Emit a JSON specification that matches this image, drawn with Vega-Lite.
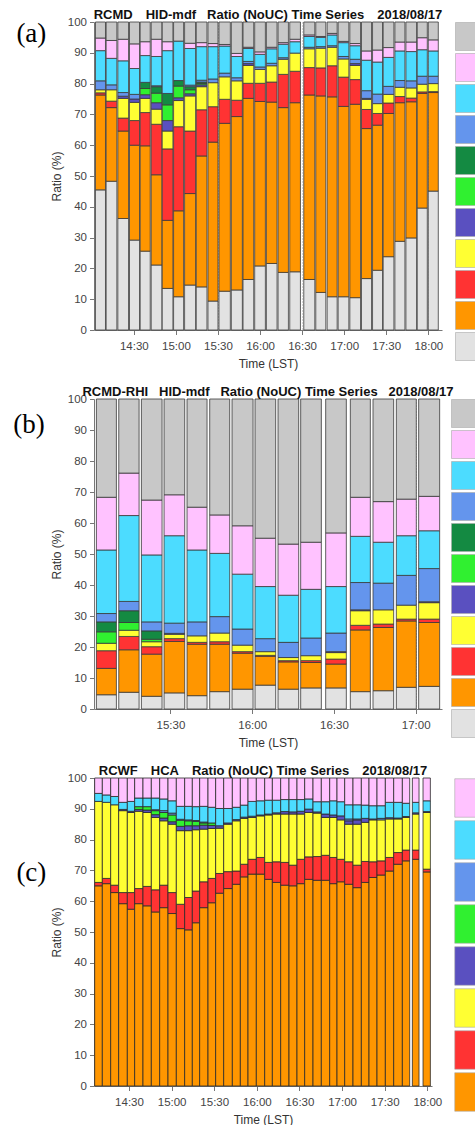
{
  "$schema": "https://vega.github.io/schema/vega-lite/v6.json",
  "padding": {"left": 13, "top": 9, "right": 0, "bottom": 0},
  "background": "white",
  "config": {
    "font": "Liberation Sans",
    "view": {"stroke": null},
    "axis": {"domainColor": "#777", "tickColor": "#777", "labelColor": "#444", "labelFontSize": 11.5, "titleFontSize": 12, "titleFontWeight": "normal", "titleColor": "#333", "tickSize": 4.5},
    "axisX": {"grid": true, "gridColor": "#777", "gridDash": [1, 2], "gridOpacity": 0.6, "labelPadding": 6, "titlePadding": 6, "zindex": 1},
    "axisY": {"grid": false, "labelPadding": 3, "titlePadding": 4},
    "legend": {"padding": 0, "rowPadding": 0, "labelFontSize": 10, "symbolStrokeWidth": 0.6, "symbolStrokeColor": "#aaa"},
    "title": {"font": "Liberation Sans", "fontSize": 13, "fontWeight": "bold", "color": "#111", "offset": -6}
  },
  "datasets": {
    "a": [
      {"t0": 14.0437, "t1": 14.1627, "lightgray": 45.5, "orange": 30.8, "red": 0.7, "yellow": 1.0, "blue": 2.9, "cyan": 9.8, "pink": 4.1, "gray": 5.2},
      {"t0": 14.1707, "t1": 14.2977, "lightgray": 48.3, "orange": 23.9, "red": 2.1, "yellow": 3.7, "blue": 1.6, "cyan": 8.6, "pink": 5.8, "gray": 6.0},
      {"t0": 14.3095, "t1": 14.4365, "lightgray": 36.2, "orange": 28.4, "red": 4.2, "yellow": 6.4, "purple": 0.7, "blue": 1.2, "cyan": 10.3, "pink": 7.0, "gray": 5.6},
      {"t0": 14.4483, "t1": 14.5675, "lightgray": 29.2, "orange": 30.8, "red": 8.0, "yellow": 5.9, "purple": 1.1, "blue": 1.5, "cyan": 8.4, "pink": 8.0, "gray": 7.1},
      {"t0": 14.5753, "t1": 14.6945, "lightgray": 25.6, "orange": 34.2, "red": 10.8, "yellow": 4.6, "purple": 1.2, "green": 2.0, "darkgreen": 2.0, "cyan": 8.7, "pink": 4.5, "gray": 6.4},
      {"t0": 14.7063, "t1": 14.8333, "lightgray": 21.1, "orange": 29.3, "red": 16.4, "yellow": 4.9, "purple": 2.1, "green": 3.1, "darkgreen": 2.1, "blue": 0.3, "cyan": 9.5, "pink": 5.6, "gray": 5.6},
      {"t0": 14.8373, "t1": 14.9643, "lightgray": 13.5, "orange": 22.1, "red": 23.2, "yellow": 5.8, "purple": 3.4, "green": 5.1, "darkgreen": 3.7, "cyan": 13.9, "pink": 2.9, "gray": 6.4},
      {"t0": 14.9722, "t1": 15.0913, "lightgray": 10.8, "orange": 27.9, "red": 27.3, "yellow": 8.5, "purple": 0.9, "green": 3.8, "darkgreen": 1.8, "cyan": 12.8, "gray": 6.2},
      {"t0": 15.1032, "t1": 15.2342, "lightgray": 14.6, "orange": 29.7, "red": 20.3, "yellow": 11.4, "purple": 0.7, "green": 1.3, "darkgreen": 1.0, "blue": 0.5, "cyan": 11.9, "pink": 1.7, "gray": 6.9},
      {"t0": 15.2420, "t1": 15.3690, "lightgray": 14.0, "orange": 42.5, "red": 15.0, "yellow": 7.5, "purple": 0.6, "green": 0.4, "darkgreen": 0.5, "blue": 0.6, "cyan": 10.9, "pink": 1.3, "gray": 6.7},
      {"t0": 15.3810, "t1": 15.5000, "lightgray": 9.4, "orange": 51.6, "red": 11.5, "yellow": 7.8, "blue": 1.2, "cyan": 10.5, "pink": 1.0, "gray": 7.0},
      {"t0": 15.5118, "t1": 15.6468, "lightgray": 12.6, "orange": 54.5, "red": 7.8, "yellow": 7.3, "blue": 1.2, "cyan": 8.8, "pink": 0.5, "gray": 7.3},
      {"t0": 15.6587, "t1": 15.7897, "lightgray": 13.0, "orange": 56.3, "red": 5.3, "yellow": 6.3, "blue": 1.0, "cyan": 6.9, "pink": 1.0, "gray": 10.2},
      {"t0": 15.7977, "t1": 15.9247, "lightgray": 16.4, "orange": 58.8, "red": 4.9, "yellow": 5.8, "purple": 0.6, "blue": 0.7, "cyan": 4.2, "pink": 0.4, "gray": 8.2},
      {"t0": 15.9365, "t1": 16.0635, "lightgray": 20.8, "orange": 53.4, "red": 5.9, "yellow": 4.5, "blue": 0.8, "cyan": 4.1, "pink": 0.8, "gray": 9.7},
      {"t0": 16.0753, "t1": 16.2023, "lightgray": 21.6, "orange": 52.4, "red": 6.5, "yellow": 5.3, "blue": 0.8, "cyan": 4.7, "pink": 0.5, "gray": 8.2},
      {"t0": 16.2143, "t1": 16.3373, "lightgray": 18.7, "orange": 53.5, "red": 10.8, "yellow": 4.9, "blue": 0.5, "cyan": 4.4, "pink": 0.5, "gray": 6.7},
      {"t0": 16.3532, "t1": 16.4802, "lightgray": 18.9, "orange": 54.9, "red": 10.2, "yellow": 5.9, "cyan": 3.7, "pink": 0.8, "gray": 5.6},
      {"t0": 16.5198, "t1": 16.6508, "lightgray": 16.4, "orange": 59.9, "red": 8.9, "yellow": 6.1, "blue": 0.5, "cyan": 3.5, "pink": 0.5, "gray": 4.2},
      {"t0": 16.6627, "t1": 16.7817, "lightgray": 12.2, "orange": 63.8, "red": 9.1, "yellow": 6.4, "blue": 0.5, "cyan": 3.0, "pink": 0.3, "gray": 4.7},
      {"t0": 16.7977, "t1": 16.9167, "lightgray": 10.8, "orange": 64.9, "red": 10.1, "yellow": 6.0, "blue": 0.5, "cyan": 3.5, "pink": 0.5, "gray": 3.7},
      {"t0": 16.9285, "t1": 17.0555, "lightgray": 10.8, "orange": 61.8, "red": 9.5, "yellow": 5.9, "blue": 0.8, "cyan": 4.5, "pink": 0.4, "gray": 6.3},
      {"t0": 17.0675, "t1": 17.1945, "lightgray": 10.5, "orange": 62.8, "red": 8.0, "yellow": 4.6, "purple": 0.6, "blue": 1.4, "cyan": 4.4, "pink": 0.7, "gray": 7.0},
      {"t0": 17.2063, "t1": 17.3253, "lightgray": 16.7, "orange": 48.7, "red": 6.2, "yellow": 3.3, "purple": 0.3, "blue": 2.5, "cyan": 9.9, "pink": 3.0, "gray": 9.4},
      {"t0": 17.3373, "t1": 17.4563, "lightgray": 19.4, "orange": 47.1, "red": 3.8, "yellow": 3.2, "blue": 3.1, "cyan": 10.4, "pink": 3.9, "gray": 9.1},
      {"t0": 17.4643, "t1": 17.5913, "lightgray": 23.8, "orange": 46.5, "red": 3.4, "yellow": 2.8, "blue": 2.6, "cyan": 9.4, "pink": 3.2, "gray": 8.3},
      {"t0": 17.6032, "t1": 17.7222, "lightgray": 28.8, "orange": 45.0, "red": 2.0, "yellow": 3.0, "blue": 2.2, "cyan": 9.6, "pink": 2.9, "gray": 6.5},
      {"t0": 17.7342, "t1": 17.8612, "lightgray": 29.9, "orange": 44.2, "red": 1.2, "yellow": 3.3, "blue": 2.3, "cyan": 9.5, "pink": 3.1, "gray": 6.5},
      {"t0": 17.8690, "t1": 17.9882, "lightgray": 39.6, "orange": 37.2, "red": 0.5, "yellow": 2.5, "blue": 2.6, "cyan": 8.6, "pink": 3.9, "gray": 5.1},
      {"t0": 18.0000, "t1": 18.1190, "lightgray": 45.1, "orange": 32.0, "red": 0.3, "yellow": 2.6, "blue": 2.4, "cyan": 8.2, "pink": 3.6, "gray": 5.8}
    ],
    "b": [
      {"t0": 15.0475, "t1": 15.1698, "lightgray": 4.6, "orange": 8.5, "red": 5.7, "yellow": 2.4, "green": 3.7, "darkgreen": 3.2, "blue": 2.7, "cyan": 20.5, "pink": 17.0, "gray": 31.7},
      {"t0": 15.1842, "t1": 15.3085, "lightgray": 5.4, "orange": 13.7, "red": 4.3, "yellow": 2.0, "green": 2.5, "darkgreen": 3.8, "blue": 3.0, "cyan": 27.7, "pink": 13.7, "gray": 23.9},
      {"t0": 15.3227, "t1": 15.4490, "lightgray": 4.1, "orange": 13.6, "red": 2.4, "yellow": 1.6, "green": 0.8, "darkgreen": 2.7, "blue": 2.9, "cyan": 21.6, "pink": 17.7, "gray": 32.6},
      {"t0": 15.4613, "t1": 15.5877, "lightgray": 5.2, "orange": 16.6, "red": 0.9, "yellow": 1.4, "purple": 0.3, "blue": 3.3, "cyan": 28.2, "pink": 13.2, "gray": 30.9},
      {"t0": 15.6018, "t1": 15.7242, "lightgray": 4.3, "orange": 16.6, "red": 0.6, "yellow": 2.1, "blue": 4.5, "cyan": 23.2, "pink": 13.8, "gray": 34.9},
      {"t0": 15.7405, "t1": 15.8628, "lightgray": 5.6, "orange": 15.3, "red": 0.8, "yellow": 2.8, "blue": 5.3, "cyan": 20.4, "pink": 12.4, "gray": 37.4},
      {"t0": 15.8770, "t1": 16.0055, "lightgray": 6.4, "orange": 11.6, "red": 0.5, "yellow": 2.1, "blue": 5.2, "cyan": 17.7, "pink": 15.6, "gray": 40.9},
      {"t0": 16.0177, "t1": 16.1440, "lightgray": 7.7, "orange": 9.3, "red": 0.3, "yellow": 1.2, "blue": 4.2, "cyan": 16.8, "pink": 15.6, "gray": 44.9},
      {"t0": 16.1583, "t1": 16.2847, "lightgray": 6.4, "orange": 8.8, "red": 0.4, "yellow": 1.0, "blue": 4.9, "cyan": 15.2, "pink": 16.5, "gray": 46.8},
      {"t0": 16.2968, "t1": 16.4232, "lightgray": 6.8, "orange": 8.2, "red": 0.6, "yellow": 1.6, "blue": 5.7, "cyan": 15.7, "pink": 15.2, "gray": 46.2},
      {"t0": 16.4497, "t1": 16.5760, "lightgray": 6.8, "orange": 7.7, "red": 1.6, "yellow": 2.1, "purple": 0.3, "blue": 6.0, "cyan": 15.0, "pink": 17.3, "gray": 43.2},
      {"t0": 16.6005, "t1": 16.7228, "lightgray": 5.6, "orange": 19.9, "red": 1.5, "yellow": 4.7, "purple": 0.3, "blue": 8.8, "cyan": 14.9, "pink": 12.6, "gray": 31.7},
      {"t0": 16.7392, "t1": 16.8655, "lightgray": 5.9, "orange": 20.4, "red": 1.1, "yellow": 4.6, "blue": 8.6, "cyan": 13.2, "pink": 13.1, "gray": 33.1},
      {"t0": 16.8818, "t1": 17.0040, "lightgray": 7.0, "orange": 21.4, "red": 0.6, "yellow": 4.5, "blue": 9.6, "cyan": 12.8, "pink": 11.8, "gray": 32.3},
      {"t0": 17.0183, "t1": 17.1467, "lightgray": 7.3, "orange": 20.6, "red": 1.1, "yellow": 5.3, "purple": 0.3, "blue": 10.7, "cyan": 12.2, "pink": 11.1, "gray": 31.4}
    ],
    "c": [
      {"t0": 14.0972, "t1": 14.1872, "orange": 65.0, "red": 1.1, "yellow": 26.3, "cyan": 2.6, "pink": 5.0},
      {"t0": 14.1872, "t1": 14.2850, "orange": 65.7, "red": 1.7, "yellow": 24.7, "cyan": 2.4, "pink": 5.5},
      {"t0": 14.2850, "t1": 14.3788, "orange": 62.8, "red": 2.4, "yellow": 26.1, "cyan": 2.7, "pink": 6.0},
      {"t0": 14.3788, "t1": 14.4805, "orange": 59.2, "red": 3.6, "yellow": 26.6, "purple": 0.4, "cyan": 2.3, "pink": 7.9},
      {"t0": 14.4805, "t1": 14.5665, "orange": 57.4, "red": 5.4, "yellow": 26.0, "purple": 0.4, "cyan": 3.2, "pink": 7.6},
      {"t0": 14.5665, "t1": 14.6642, "orange": 59.2, "red": 4.9, "yellow": 25.1, "purple": 0.6, "green": 0.9, "cyan": 2.8, "pink": 6.5},
      {"t0": 14.6642, "t1": 14.7620, "orange": 58.5, "red": 6.3, "yellow": 24.0, "purple": 0.8, "green": 1.1, "cyan": 2.8, "pink": 6.5},
      {"t0": 14.7620, "t1": 14.8598, "orange": 56.5, "red": 7.2, "yellow": 23.5, "purple": 0.9, "green": 1.3, "blue": 0.3, "cyan": 3.8, "pink": 6.5},
      {"t0": 14.8598, "t1": 14.9575, "orange": 57.9, "red": 7.3, "yellow": 20.9, "purple": 0.9, "green": 1.8, "blue": 0.6, "cyan": 3.8, "pink": 6.8},
      {"t0": 14.9575, "t1": 15.0553, "orange": 56.0, "red": 6.8, "yellow": 22.2, "purple": 0.8, "green": 2.2, "blue": 0.6, "cyan": 4.0, "pink": 7.4},
      {"t0": 15.0553, "t1": 15.1530, "orange": 51.1, "red": 7.9, "yellow": 23.9, "purple": 1.4, "green": 2.0, "blue": 0.3, "cyan": 4.2, "pink": 9.2},
      {"t0": 15.1530, "t1": 15.2430, "orange": 50.7, "red": 10.5, "yellow": 21.7, "purple": 1.6, "green": 1.6, "blue": 0.3, "cyan": 4.4, "pink": 9.2},
      {"t0": 15.2430, "t1": 15.3290, "orange": 53.0, "red": 10.3, "yellow": 19.9, "purple": 1.3, "green": 1.4, "blue": 0.3, "cyan": 4.5, "pink": 9.3},
      {"t0": 15.3290, "t1": 15.4268, "orange": 57.9, "red": 8.4, "yellow": 17.1, "purple": 1.3, "green": 0.7, "blue": 0.3, "cyan": 5.1, "pink": 9.2},
      {"t0": 15.4268, "t1": 15.5167, "orange": 59.5, "red": 7.9, "yellow": 16.2, "purple": 1.0, "green": 0.8, "cyan": 5.1, "pink": 9.5},
      {"t0": 15.5167, "t1": 15.6107, "orange": 62.6, "red": 6.4, "yellow": 14.7, "purple": 0.8, "cyan": 5.6, "pink": 9.9},
      {"t0": 15.6107, "t1": 15.7123, "orange": 64.1, "red": 5.5, "yellow": 15.4, "purple": 0.4, "cyan": 4.7, "pink": 9.9},
      {"t0": 15.7123, "t1": 15.8062, "orange": 65.5, "red": 4.3, "yellow": 16.3, "purple": 0.4, "cyan": 4.0, "pink": 9.5},
      {"t0": 15.8062, "t1": 15.8962, "orange": 67.9, "red": 4.1, "yellow": 14.9, "purple": 0.4, "cyan": 3.9, "pink": 8.8},
      {"t0": 15.8962, "t1": 15.9938, "orange": 68.8, "red": 4.8, "yellow": 13.6, "purple": 0.4, "cyan": 4.8, "pink": 7.6},
      {"t0": 15.9938, "t1": 16.0917, "orange": 68.8, "red": 5.4, "yellow": 13.5, "purple": 0.3, "cyan": 4.6, "pink": 7.4},
      {"t0": 16.0917, "t1": 16.1817, "orange": 67.1, "red": 5.5, "yellow": 15.4, "purple": 0.3, "cyan": 4.5, "pink": 7.2},
      {"t0": 16.1817, "t1": 16.2793, "orange": 66.1, "red": 6.7, "yellow": 15.5, "purple": 0.4, "cyan": 4.1, "pink": 7.2},
      {"t0": 16.2793, "t1": 16.3770, "orange": 65.2, "red": 7.4, "yellow": 15.7, "purple": 0.8, "cyan": 3.9, "pink": 7.0},
      {"t0": 16.3770, "t1": 16.4708, "orange": 65.0, "red": 6.7, "yellow": 16.6, "purple": 0.7, "cyan": 4.0, "pink": 7.0},
      {"t0": 16.4708, "t1": 16.5608, "orange": 65.7, "red": 7.9, "yellow": 14.7, "purple": 0.9, "cyan": 3.8, "pink": 7.0},
      {"t0": 16.5608, "t1": 16.6587, "orange": 67.1, "red": 7.3, "yellow": 14.4, "purple": 1.1, "cyan": 3.3, "pink": 6.8},
      {"t0": 16.6587, "t1": 16.7563, "orange": 66.8, "red": 7.7, "yellow": 14.1, "purple": 0.4, "cyan": 3.3, "pink": 7.7},
      {"t0": 16.7563, "t1": 16.8542, "orange": 66.8, "red": 8.1, "yellow": 12.3, "purple": 1.1, "cyan": 4.0, "pink": 7.7},
      {"t0": 16.8542, "t1": 16.9402, "orange": 65.7, "red": 8.5, "yellow": 13.0, "purple": 0.8, "cyan": 4.6, "pink": 7.4},
      {"t0": 16.9402, "t1": 17.0302, "orange": 66.3, "red": 7.3, "yellow": 12.8, "purple": 1.3, "cyan": 4.6, "pink": 7.7},
      {"t0": 17.0302, "t1": 17.1278, "orange": 65.5, "red": 7.3, "yellow": 12.2, "purple": 1.1, "blue": 0.6, "cyan": 4.6, "pink": 8.7},
      {"t0": 17.1278, "t1": 17.2257, "orange": 64.4, "red": 7.3, "yellow": 13.3, "purple": 1.4, "blue": 0.3, "cyan": 4.6, "pink": 8.7},
      {"t0": 17.2257, "t1": 17.3157, "orange": 66.1, "red": 6.8, "yellow": 12.7, "purple": 1.3, "cyan": 4.3, "pink": 8.8},
      {"t0": 17.3157, "t1": 17.4095, "orange": 67.7, "red": 5.1, "yellow": 13.6, "purple": 0.3, "cyan": 4.3, "pink": 9.0},
      {"t0": 17.4095, "t1": 17.5072, "orange": 68.5, "red": 4.6, "yellow": 13.3, "blue": 0.5, "cyan": 4.1, "pink": 9.0},
      {"t0": 17.5072, "t1": 17.6050, "orange": 69.8, "red": 4.4, "yellow": 12.5, "purple": 0.4, "cyan": 5.0, "pink": 7.9},
      {"t0": 17.6050, "t1": 17.7067, "orange": 72.0, "red": 3.8, "yellow": 10.9, "purple": 0.3, "cyan": 5.1, "pink": 7.9},
      {"t0": 17.7067, "t1": 17.7927, "orange": 73.1, "red": 3.5, "yellow": 10.6, "purple": 0.3, "cyan": 4.3, "pink": 8.2},
      {"t0": 17.8240, "t1": 17.9022, "orange": 73.6, "red": 3.0, "yellow": 11.7, "purple": 0.4, "cyan": 3.4, "pink": 7.9},
      {"t0": 17.9492, "t1": 18.0352, "orange": 69.5, "red": 0.9, "yellow": 18.4, "purple": 0.3, "cyan": 3.5, "pink": 7.4}
    ]
  },
  "spacing": 17,
  "resolve": {"scale": {"color": "independent"}},
  "vconcat": [
    {
      "title": {"text": "(a)", "orient": "left", "anchor": "end", "angle": 0, "align": "right", "baseline": "top", "font": "Liberation Serif", "fontSize": 27, "fontWeight": "normal", "color": "#000", "offset": -26, "dy": 12},
      "resolve": {"scale": {"color": "independent"}},
      "vconcat": [
        {
          "title": {"text": "RCMD\u2002\u2002HID-mdf\u00a0\u00a0\u00a0Ratio (NoUC) Time Series\u2002\u20022018/08/17", "anchor": "middle"},
          "width": 348,
          "height": 308,
          "data": {"name": "a"},
          "transform": [
            {"fold": ["lightgray", "orange", "red", "yellow", "purple", "green", "darkgreen", "blue", "cyan", "pink", "gray"], "as": ["cls", "v"]},
            {"filter": "datum.v > 0"},
            {"stack": "v", "groupby": ["t0"], "as": ["y0", "y1"]}
          ],
          "mark": {"type": "rect", "stroke": "#3a3a3a", "strokeWidth": 0.8},
          "encoding": {
            "x": {"field": "t0", "type": "quantitative", "title": "Time (LST)",
              "scale": {"domain": [14.0261, 18.1631], "nice": false, "zero": false},
              "axis": {"values": [14.5, 15, 15.5, 16, 16.5, 17, 17.5, 18], "labelExpr": "floor(datum.value) + ':' + (datum.value % 1 > 0.25 ? '30' : '00')"}},
            "x2": {"field": "t1"},
            "y": {"field": "y0", "type": "quantitative", "title": "Ratio (%)", "scale": {"domain": [0, 100], "nice": false}, "axis": {"values": [0, 10, 20, 30, 40, 50, 60, 70, 80, 90, 100]}},
            "y2": {"field": "y1"},
            "color": {"field": "cls", "type": "nominal",
              "scale": {"domain": ["gray", "pink", "cyan", "blue", "darkgreen", "green", "purple", "yellow", "red", "orange", "lightgray"],
                        "range": ["#c8c8c8", "#ffc2ff", "#4cdcff", "#6495ed", "#148a42", "#30f030", "#5a50c0", "#ffff33", "#ff3333", "#ff9600", "#e2e2e2"]},
              "legend": {"title": null, "symbolType": "square", "symbolSize": 784, "offset": 13, "labelExpr": "''"}}
          }
        }
      ]
    },
    {
      "title": {"text": "(b)", "orient": "left", "anchor": "end", "angle": 0, "align": "right", "baseline": "top", "font": "Liberation Serif", "fontSize": 27, "fontWeight": "normal", "color": "#000", "offset": -26, "dy": 26},
      "resolve": {"scale": {"color": "independent"}},
      "vconcat": [
        {
          "title": {"text": "RCMD-RHI\u00a0\u00a0\u00a0HID-mdf\u00a0\u00a0\u00a0Ratio (NoUC) Time Series\u00a0\u00a0\u00a02018/08/17", "anchor": "middle"},
          "width": 348,
          "height": 310,
          "data": {"name": "b"},
          "transform": [
            {"fold": ["lightgray", "orange", "red", "yellow", "purple", "green", "darkgreen", "blue", "cyan", "pink", "gray"], "as": ["cls", "v"]},
            {"filter": "datum.v > 0"},
            {"stack": "v", "groupby": ["t0"], "as": ["y0", "y1"]}
          ],
          "mark": {"type": "rect", "stroke": "#3a3a3a", "strokeWidth": 0.8},
          "encoding": {
            "x": {"field": "t0", "type": "quantitative", "title": "Time (LST)",
              "scale": {"domain": [15.0328, 17.1611], "nice": false, "zero": false},
              "axis": {"values": [15.5, 16, 16.5, 17], "labelExpr": "floor(datum.value) + ':' + (datum.value % 1 > 0.25 ? '30' : '00')"}},
            "x2": {"field": "t1"},
            "y": {"field": "y0", "type": "quantitative", "title": "Ratio (%)", "scale": {"domain": [0, 100], "nice": false}, "axis": {"values": [0, 10, 20, 30, 40, 50, 60, 70, 80, 90, 100]}},
            "y2": {"field": "y1"},
            "color": {"field": "cls", "type": "nominal",
              "scale": {"domain": ["gray", "pink", "cyan", "blue", "darkgreen", "green", "purple", "yellow", "red", "orange", "lightgray"],
                        "range": ["#c8c8c8", "#ffc2ff", "#4cdcff", "#6495ed", "#148a42", "#30f030", "#5a50c0", "#ffff33", "#ff3333", "#ff9600", "#e2e2e2"]},
              "legend": {"title": null, "symbolType": "square", "symbolSize": 784, "offset": 9, "labelExpr": "''"}}
          }
        }
      ]
    },
    {
      "title": {"text": "(c)", "orient": "left", "anchor": "end", "angle": 0, "align": "right", "baseline": "top", "font": "Liberation Serif", "fontSize": 27, "fontWeight": "normal", "color": "#000", "offset": -26, "dy": 95},
      "resolve": {"scale": {"color": "independent"}},
      "vconcat": [
        {
          "title": {"text": "RCWF\u2002\u2002HCA\u2002\u2002Ratio (NoUC) Time Series\u2002\u20022018/08/17", "anchor": "middle"},
          "width": 338,
          "height": 308,
          "data": {"name": "c"},
          "transform": [
            {"fold": ["orange", "red", "yellow", "purple", "green", "blue", "cyan", "pink"], "as": ["cls", "v"]},
            {"filter": "datum.v > 0"},
            {"stack": "v", "groupby": ["t0"], "as": ["y0", "y1"]}
          ],
          "mark": {"type": "rect", "stroke": "#2a2a2a", "strokeWidth": 0.8},
          "encoding": {
            "x": {"field": "t0", "type": "quantitative", "title": "Time (LST)",
              "scale": {"domain": [14.0894, 18.0544], "nice": false, "zero": false},
              "axis": {"values": [14.5, 15, 15.5, 16, 16.5, 17, 17.5, 18], "labelExpr": "floor(datum.value) + ':' + (datum.value % 1 > 0.25 ? '30' : '00')"}},
            "x2": {"field": "t1"},
            "y": {"field": "y0", "type": "quantitative", "title": "Ratio (%)", "scale": {"domain": [0, 100], "nice": false}, "axis": {"values": [0, 10, 20, 30, 40, 50, 60, 70, 80, 90, 100]}},
            "y2": {"field": "y1"},
            "color": {"field": "cls", "type": "nominal",
              "scale": {"domain": ["pink", "cyan", "blue", "green", "purple", "yellow", "red", "orange"],
                        "range": ["#ffc2ff", "#4cdcff", "#6495ed", "#30f030", "#5a50c0", "#ffff33", "#ff3333", "#ff9600"]},
              "legend": {"title": null, "symbolType": "square", "symbolSize": 1482, "offset": 22, "labelExpr": "''"}}
          }
        }
      ]
    }
  ]
}
